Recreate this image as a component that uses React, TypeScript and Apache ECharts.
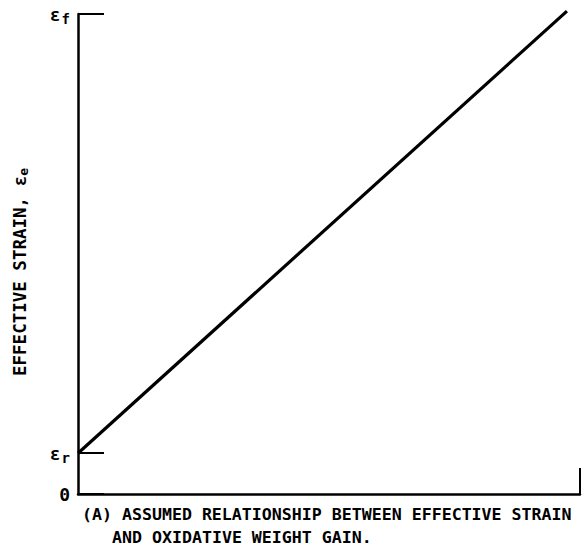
import React, { useEffect, useRef } from "react";
import * as echarts from "echarts";

const lineX = [0, 0.974];
const lineY = [0.085, 1.006];
const yTickValues = [0, 0.085, 1];
const yTickLabels = ["0", "ε{sub|r}", "ε{sub|f}"];
const xTickValues = [1];
const yAxisTitle = "EFFECTIVE STRAIN, ε{sub|e}";
const captionLines = [
  "(A) ASSUMED RELATIONSHIP BETWEEN EFFECTIVE STRAIN",
  "AND OXIDATIVE WEIGHT GAIN.",
];
const captionX = [82, 112];

const FONT = "'DejaVu Sans Mono'";

export default function App() {
  const ref = useRef<HTMLDivElement>(null);
  useEffect(() => {
    if (!ref.current) return;
    const chart = echarts.init(ref.current, null, { renderer: "svg" });
    const data = lineX.map((x, i) => [x, lineY[i]]);
    chart.setOption({
      animation: false,
      backgroundColor: "#fff",
      grid: { left: 78, right: 4, top: 14, bottom: 56 },
      xAxis: {
        type: "value",
        min: 0,
        max: 1,
        axisLine: { show: true, lineStyle: { color: "#000", width: 2.5 } },
        axisTick: {
          show: true,
          inside: true,
          length: 26,
          customValues: xTickValues,
          lineStyle: { color: "#000", width: 2 },
        },
        axisLabel: { show: false },
        splitLine: { show: false },
      },
      yAxis: {
        type: "value",
        min: 0,
        max: 1,
        axisLine: { show: true, lineStyle: { color: "#000", width: 2.5 } },
        axisTick: {
          show: true,
          inside: true,
          length: 26,
          customValues: yTickValues,
          lineStyle: { color: "#000", width: 2 },
        },
        axisLabel: {
          show: true,
          customValues: yTickValues,
          margin: 8,
          formatter: (v: number) => {
            const i = yTickValues.findIndex((t) => Math.abs(t - v) < 1e-9);
            return i >= 0 ? yTickLabels[i] : "";
          },
          color: "#000",
          fontFamily: FONT,
          fontSize: 18,
          fontWeight: "bold",
          rich: {
            sub: {
              fontFamily: FONT,
              fontSize: 14,
              fontWeight: "bold",
              color: "#000",
              verticalAlign: "bottom",
              padding: [9, 0, 0, 1],
            },
          },
        },
        splitLine: { show: false },
      },
      series: [
        {
          type: "line",
          data,
          clip: false,
          symbol: "none",
          lineStyle: { color: "#000", width: 3.2 },
        },
      ],
      graphic: [
        {
          type: "text",
          x: 20,
          y: 272,
          rotation: Math.PI / 2,
          style: {
            text: yAxisTitle,
            font: `bold 17.5px ${FONT}`,
            fill: "#000",
            align: "center",
            verticalAlign: "middle",
            rich: {
              sub: {
                font: `bold 13px ${FONT}`,
                fill: "#000",
                padding: [7, 0, 0, 0],
              },
            },
          },
        },
        ...captionLines.map((t, i) => ({
          type: "text",
          x: captionX[i],
          y: 514 + i * 23,
          style: {
            text: t,
            font: `bold 16.6px ${FONT}`,
            fill: "#000",
            align: "left",
            verticalAlign: "middle",
          },
        })),
      ],
    });
    return () => chart.dispose();
  }, []);
  return (
    <div
      ref={ref}
      style={{ position: "absolute", left: 0, top: 0, width: 584, height: 550 }}
    />
  );
}
